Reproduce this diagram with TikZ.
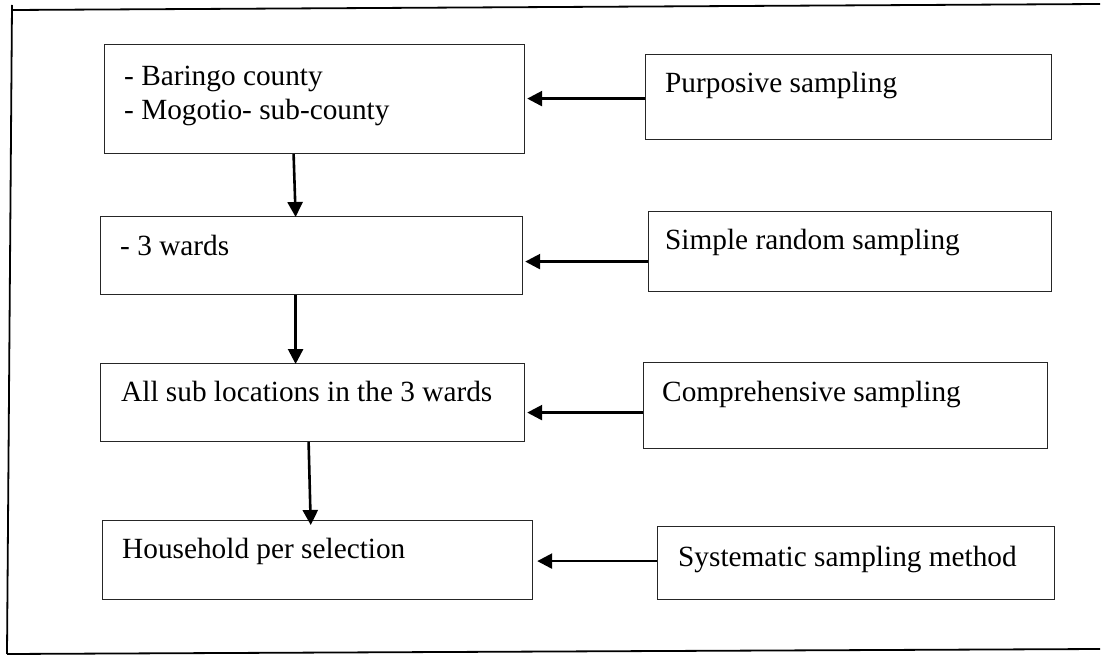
\documentclass[tikz,border=0pt]{standalone}
\usepackage{fontspec}
\setmainfont{Liberation Serif}
\usetikzlibrary{arrows.meta,calc}
\begin{document}
\begin{tikzpicture}[x=1pt,y=-1pt,
  framebox/.style={draw=black!85, line width=1.2pt, rectangle, inner sep=0pt, anchor=north west},
  txt/.style={inner sep=0pt, anchor=base west, font=\fontsize{29.3}{34}\selectfont},
  arr/.style={line width=2.6pt, -{Triangle[length=15pt,width=15pt]}},
  border/.style={line width=1.8pt, black}]
\useasboundingbox (0,0) rectangle (1109,655);
% outer frame (three sides)
\draw[border] (12,5) -- (7,654);
\draw[border] (12,10) -- (1100,4);
\draw[border] (7,654) -- (1100,649);
% left boxes
\node[framebox, minimum width=420pt, minimum height=109pt] (b1) at (104,44) {};
\node[framebox, minimum width=422pt, minimum height=78pt] (b2) at (100,216) {};
\node[framebox, minimum width=424pt, minimum height=78pt] (b3) at (100,363) {};
\node[framebox, minimum width=430pt, minimum height=79pt] (b4) at (102,520) {};
% right boxes
\node[framebox, minimum width=406pt, minimum height=85pt] (r1) at (645,54) {};
\node[framebox, minimum width=403pt, minimum height=80pt] (r2) at (648,211) {};
\node[framebox, minimum width=404pt, minimum height=86pt] (r3) at (643,362) {};
\node[framebox, minimum width=397pt, minimum height=73pt] (r4) at (657,526) {};
% texts
\node[txt] (t1a) at (124,86) {- Baringo county};
\node[txt] (t1b) at (124,120) {- Mogotio- sub-county};
\node[txt] (t2) at (120,256) {- 3 wards};
\node[txt] (t3) at (121,401) {All sub locations in the 3 wards};
\node[txt] (t4) at (122,558) {Household per selection};
\node[txt] (u1) at (665,93) {Purposive sampling};
\node[txt] (u2) at (665,250) {Simple random sampling};
\node[txt] (u3) at (662,401) {Comprehensive sampling};
\node[txt] (u4) at (678,566) {Systematic sampling method};
% vertical arrows
\draw[arr, shorten >=-1pt] ([xshift=-21pt]b1.south) -- ([xshift=-16pt]b2.north);
\draw[arr, shorten >=-1pt] ([xshift=-16pt]b2.south) -- ([xshift=-17pt]b3.north);
\draw[arr, shorten >=-5pt] ([xshift=-4pt]b3.south) -- ([xshift=-7pt]b4.north);
% horizontal arrows
\draw[arr, shorten >=2pt] ([yshift=-1.5pt]r1.west) -- ([yshift=-1.5pt]r1.west -| b1.east);
\draw[arr, shorten >=2pt] ([yshift=-10pt]r2.west) -- ([yshift=-10pt]r2.west -| b2.east);
\draw[arr, shorten >=2pt] ([yshift=-7pt]r3.west) -- ([yshift=-7pt]r3.west -| b3.east);
\draw[arr, shorten >=4pt] ([yshift=2pt]r4.west) -- ([yshift=2pt]r4.west -| b4.east);
\end{tikzpicture}
\end{document}
